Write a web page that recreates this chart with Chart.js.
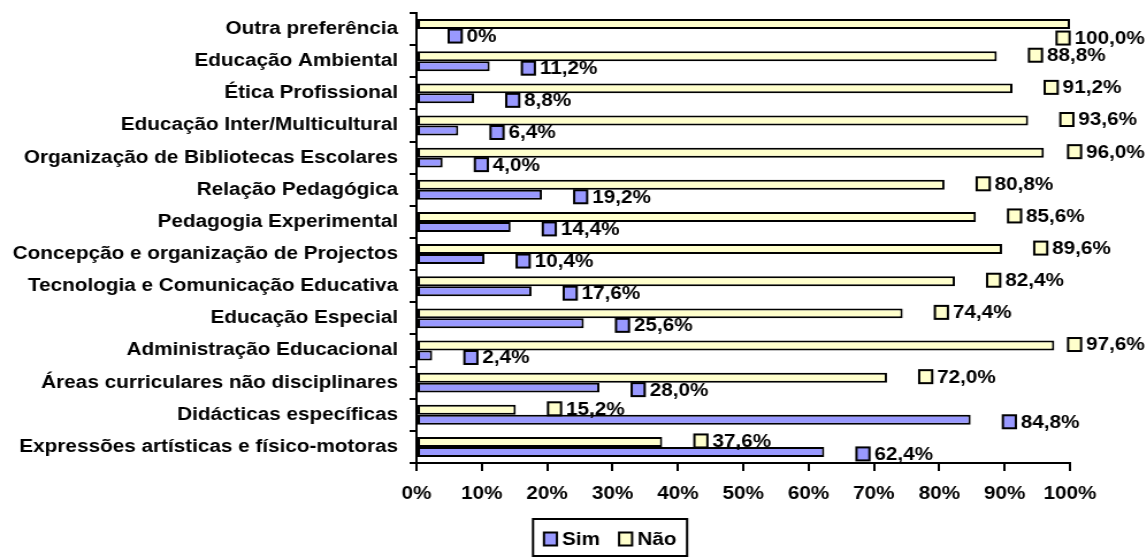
<!DOCTYPE html>
<html>
<head>
<meta charset="utf-8">
<script src="https://cdn.jsdelivr.net/npm/chart.js@4.4.1/dist/chart.umd.min.js"></script>
<style>
  html, body { margin: 0; padding: 0; background: #fff; overflow: hidden; }
  /* the chart is laid out a bit narrower and widened, which gives the wide bold lettering */
  #chart { display: block; transform: scaleX(1.1505); transform-origin: 0 0; }
</style>
</head>
<body>
<canvas id="chart" width="997" height="559"></canvas>
<script>
const categories = [
  "Outra preferência",
  "Educação Ambiental",
  "Ética Profissional",
  "Educação Inter/Multicultural",
  "Organização de Bibliotecas Escolares",
  "Relação Pedagógica",
  "Pedagogia Experimental",
  "Concepção e organização de Projectos",
  "Tecnologia e Comunicação Educativa",
  "Educação Especial",
  "Administração Educacional",
  "Áreas curriculares não disciplinares",
  "Didácticas específicas",
  "Expressões artísticas e físico-motoras"
];
const seriesNames = ["Sim", "Não"];
const simValues = [0, 11.2, 8.8, 6.4, 4.0, 19.2, 14.4, 10.4, 17.6, 25.6, 2.4, 28.0, 84.8, 62.4];
const naoValues = [100, 88.8, 91.2, 93.6, 96.0, 80.8, 85.6, 89.6, 82.4, 74.4, 97.6, 72.0, 15.2, 37.6];
const tickValues = [0, 10, 20, 30, 40, 50, 60, 70, 80, 90, 100];

const FONT = 'Arial, "Liberation Sans", sans-serif';
Chart.defaults.font = { family: FONT, size: 18, weight: "bold" };
Chart.defaults.color = "#000";

const KEY_W = 11.3;
const KEY_H = 13;

function fmt(v) {
  return v === 0 ? "0%" : v.toFixed(1).replace(".", ",") + "%";
}

function drawKey(ctx, x, y, color) {
  ctx.fillStyle = color;
  ctx.fillRect(x, y - KEY_H / 2, KEY_W, KEY_H);
  ctx.strokeStyle = "#000";
  ctx.lineWidth = 2;
  ctx.strokeRect(x, y - KEY_H / 2, KEY_W, KEY_H);
}

// value label with legend key, placed past the end of each bar
const valueLabels = {
  id: "valueLabels",
  afterDatasetsDraw(chart) {
    const ctx = chart.ctx;
    ctx.save();
    ctx.font = "bold 18px " + FONT;
    ctx.textBaseline = "middle";
    chart.data.datasets.forEach((ds, i) => {
      const shift = ds.label === "Sim" ? 2 : -1;
      chart.getDatasetMeta(i).data.forEach((bar, j) => {
        const text = fmt(ds.data[j]);
        const w = KEY_W + 4.3 + ctx.measureText(text).width;
        let x = bar.x + 28;
        let y = bar.y + shift;
        const maxX = chart.width - 2;
        if (x + w > maxX) {
          x = maxX - w;
          if (x < bar.x) y += bar.height + 5;
        }
        drawKey(ctx, x, y, ds.backgroundColor);
        ctx.fillStyle = "#000";
        ctx.fillText(text, x + KEY_W + 4.3, y + 1);
      });
    });
    ctx.restore();
  }
};

// boxed legend under the axis
const boxLegend = {
  id: "boxLegend",
  afterDraw(chart) {
    const ctx = chart.ctx;
    const box = { x: 463.3, y: 519, w: 133.9, h: 37 };
    ctx.save();
    ctx.strokeStyle = "#000";
    ctx.lineWidth = 2;
    ctx.strokeRect(box.x, box.y, box.w, box.h);
    ctx.font = "bold 18px " + FONT;
    ctx.textBaseline = "middle";
    let x = box.x + 9.5;
    const y = box.y + 20;
    seriesNames.forEach((name) => {
      const ds = chart.data.datasets.find((d) => d.label === name);
      drawKey(ctx, x, y, ds.backgroundColor);
      x += KEY_W + 4.5;
      ctx.fillStyle = "#000";
      ctx.fillText(name, x, y + 1);
      x += ctx.measureText(name).width + 16.5;
    });
    ctx.restore();
  }
};

new Chart(document.getElementById("chart").getContext("2d"), {
  type: "bar",
  data: {
    labels: categories,
    datasets: [
      {
        label: "Não",
        data: naoValues,
        backgroundColor: "#FFFFCC",
        borderColor: "#000",
        borderWidth: 2,
        borderSkipped: false
      },
      {
        label: "Sim",
        data: simValues,
        backgroundColor: "#9999FF",
        borderColor: "#000",
        borderWidth: 2,
        borderSkipped: false
      }
    ]
  },
  options: {
    indexAxis: "y",
    responsive: false,
    animation: false,
    layout: { padding: { left: 0, right: 67, top: 13, bottom: 0 } },
    datasets: { bar: { categoryPercentage: 0.62, barPercentage: 1 } },
    plugins: {
      legend: { display: false },
      tooltip: { enabled: false }
    },
    scales: {
      x: {
        min: 0,
        max: 100,
        afterBuildTicks: (axis) => {
          axis.ticks = tickValues.map((v) => ({ value: v }));
        },
        afterFit: (scale) => { scale.height = 96; },
        ticks: {
          padding: 12,
          maxRotation: 0,
          callback: (v) => v + "%"
        },
        grid: {
          drawOnChartArea: false,
          drawTicks: true,
          tickLength: 8,
          color: "#000",
          lineWidth: 2
        },
        border: { color: "#000", width: 2 }
      },
      y: {
        afterFit: (scale) => {
          scale.width = 362;
          // labels sit inside their rows, so no extra room above or below
          scale.paddingTop = 0;
          scale.paddingBottom = 0;
        },
        ticks: { padding: 10, autoSkip: false },
        grid: {
          offset: true,
          drawOnChartArea: false,
          drawTicks: true,
          tickLength: 6,
          color: "#000",
          lineWidth: 2
        },
        border: { color: "#000", width: 2 }
      }
    }
  },
  plugins: [valueLabels, boxLegend]
});
</script>
</body>
</html>
